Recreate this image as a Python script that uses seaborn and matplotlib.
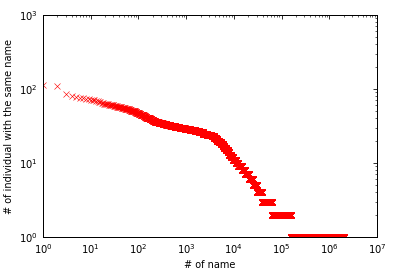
import numpy as np
import pandas as pd
import matplotlib
matplotlib.use("Agg")
import matplotlib.pyplot as plt
import seaborn as sns

# how many individuals share a name, and the rank of the first name with that count
name_counts = [113, 110, 85, 80, 78, 76, 75, 74, 73, 72, 71, 70, 69, 68, 67, 66, 65, 64,
               63, 62, 61, 60, 59, 58, 57, 56, 55, 54, 53, 52, 51, 50, 49, 48, 47, 46,
               45, 44, 43, 42, 41, 40, 39, 38, 37, 36, 35, 34, 33, 32, 31, 30, 29, 28,
               27, 26, 25, 24, 23, 22, 21, 20, 19, 18, 17, 16, 15, 14, 13, 12, 11, 10,
               9, 8, 7, 6, 5, 4, 3, 2, 1]
first_rank = [1, 2, 3, 4, 5, 6, 7, 8, 9, 10, 11, 12, 13, 14, 15, 16, 17, 18,
              19, 21, 24, 27, 31, 36, 41, 45, 49, 53, 58, 64, 70, 77, 85, 91, 96, 103,
              111, 119, 129, 138, 147, 160, 173, 188, 204, 223, 265, 321, 385, 470, 580, 726, 927, 1183,
              1540, 1860, 2240, 2750, 3400, 3900, 4200, 4450, 4850, 5350, 5900, 6300, 6800, 7400, 8000, 8800, 9800, 11000,
              12500, 14500, 17000, 20500, 25000, 30000, 39000, 63000, 155000]
total_names = 2000000

x_ticks = [1e0, 1e1, 1e2, 1e3, 1e4, 1e5, 1e6, 1e7]
y_ticks = [1e0, 1e1, 1e2, 1e3]


def main():
    sizes = np.diff(first_rank + [total_names + 1])
    df = pd.DataFrame({
        "rank": np.arange(1, total_names + 1),
        "count": np.repeat(name_counts, sizes),
    })

    sns.set_style("white")
    plt.rcParams["font.family"] = ["DejaVu Sans"]
    plt.rcParams["text.color"] = "black"
    plt.rcParams["axes.labelcolor"] = "black"
    plt.rcParams["xtick.color"] = "black"
    plt.rcParams["ytick.color"] = "black"

    fig = plt.figure(figsize=(394 / 72, 278 / 72), dpi=72)
    ax = fig.add_axes([43 / 394, 41 / 278, 334 / 394, 222 / 278])

    # seaborn defaults the marker edge to white, so set it back to red
    sns.lineplot(data=df, x="rank", y="count", estimator=None, sort=False,
                 linestyle="", marker="x", markersize=6, markeredgewidth=0.6,
                 markeredgecolor="red", color="red", ax=ax)

    ax.set_xscale("log")
    ax.set_yscale("log")
    ax.set_xlim(x_ticks[0], x_ticks[-1])
    ax.set_ylim(y_ticks[0], y_ticks[-1])
    ax.set_xticks(x_ticks)
    ax.set_yticks(y_ticks)

    ax.tick_params(which="both", direction="in", top=True, right=True,
                   labelsize=10, color="black", labelcolor="black")
    ax.tick_params(which="major", length=4, width=0.8, pad=5)
    ax.tick_params(which="minor", length=2, width=0.6)
    for s in ax.spines.values():
        s.set_color("black")
        s.set_linewidth(1.0)

    ax.set_xlabel("# of name", fontsize=9.8, labelpad=4, color="black")
    ax.set_ylabel("# of individual with the same name", fontsize=9.8, labelpad=5, color="black")

    fig.savefig("out.png", dpi=72, facecolor="white")
    plt.close(fig)


if __name__ == "__main__":
    main()
